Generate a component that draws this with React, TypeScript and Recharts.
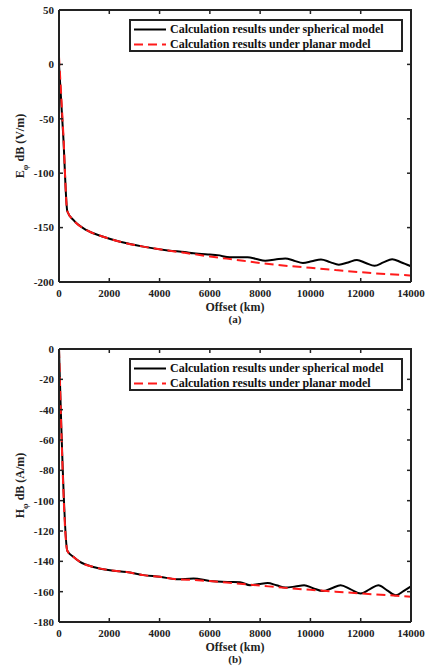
import React from 'react';
import { LineChart, Line, XAxis, YAxis, Legend, ReferenceLine } from 'recharts';

// x ticks shared by both panels
const offsetTicks = [0, 2000, 4000, 6000, 8000, 10000, 12000, 14000];
const eTicks = [-200, -150, -100, -50, 0, 50];
const hTicks = [-180, -160, -140, -120, -100, -80, -60, -40, -20, 0];

const seriesNames = ['Calculation results under spherical model', 'Calculation results under planar model'];
const seriesColors = ['#000', '#ff1a1a'];

// (a) E_phi
const offsetSphA = [0, 170, 330, 570, 1100, 1760, 2430, 3350, 4400, 5000, 5350, 6000, 6300, 6800, 7500, 7850, 8200, 8600, 9000, 9350, 9700, 10050, 10420, 10780, 11130, 11500, 11850, 12200, 12550, 12900, 13250, 13600, 14000];
const sphA = [0, -66, -135, -143, -152.4, -158.4, -163, -167.5, -171.2, -172.5, -173.6, -174.8, -175.3, -177.3, -177.2, -178.8, -180.5, -179.4, -178.3, -180.4, -182.6, -181, -179.3, -181.7, -184.1, -182, -179.8, -182.5, -185.1, -182, -179, -181.8, -185.5];
const offsetPlaA = [0, 170, 330, 570, 1100, 1760, 2430, 3350, 4400, 5000, 6000, 7000, 8000, 9000, 10000, 11000, 12000, 13000, 14000];
const plaA = [7, -63, -135, -143, -152.4, -158.4, -163, -167.5, -171.2, -173.2, -176.5, -179.5, -182.5, -185, -187, -189, -191, -192.7, -194];

// (b) H_phi
const offsetSphB = [0, 330, 570, 835, 1365, 2030, 2690, 3350, 4020, 4680, 5350, 6000, 6700, 7200, 7600, 7950, 8300, 8650, 9000, 9400, 9750, 10100, 10500, 10850, 11200, 11600, 12000, 12350, 12700, 13050, 13400, 13700, 14000];
const sphB = [0, -133, -137, -140.4, -143.7, -145.9, -147, -149.1, -150.2, -151.8, -151.4, -152.9, -153.6, -153.8, -155.8, -155, -154.3, -155.8, -157.3, -156.6, -155.8, -157.7, -159.6, -157.7, -155.8, -158.5, -161.2, -158.5, -155.8, -159.1, -162.4, -159.6, -156.5];
const offsetPlaB = [0, 330, 570, 835, 1365, 2030, 2690, 3350, 4020, 4680, 5350, 6000, 7000, 8000, 9000, 10000, 11000, 12000, 13000, 14000];
const plaB = [0, -133, -137, -140.4, -143.7, -145.9, -147, -149.1, -150.2, -151.8, -152.3, -153, -154.5, -156, -157.5, -158.8, -160, -161.2, -162.2, -163.3];

const FONT = '"Liberation Serif", "Times New Roman", serif';
const AXIS = '#222';
const TICK = 4;
const CHART_W = 426;
const CHART_H = 333;
const LEFT = 59;
const RIGHT = 15;
const PLOT_W = CHART_W - LEFT - RIGHT;

const toPts = (xs: number[], ys: number[]) => xs.map((x, i) => ({ x, y: ys[i] }));

// MATLAB-style inward ticks, mirrored on the opposite side of the box
const BottomTick = (p: any) => (
  <g>
    <line x1={p.x} y1={p.y} x2={p.x} y2={p.y - TICK} stroke={AXIS} strokeWidth={1.5} />
    <line x1={p.x} y1={p.y - p.plotH} x2={p.x} y2={p.y - p.plotH + TICK} stroke={AXIS} strokeWidth={1.5} />
    <text x={p.x} y={p.y + 15} textAnchor="middle" fontFamily={FONT} fontWeight="bold" fontSize={11} fill="#222">
      {p.payload.value}
    </text>
  </g>
);
const LeftTick = (p: any) => (
  <g>
    <line x1={p.x} y1={p.y} x2={p.x + TICK} y2={p.y} stroke={AXIS} strokeWidth={1.5} />
    <line x1={p.x + PLOT_W} y1={p.y} x2={p.x + PLOT_W - TICK} y2={p.y} stroke={AXIS} strokeWidth={1.5} />
    <text x={p.x - 5} y={p.y} dy="0.35em" textAnchor="end" fontFamily={FONT} fontWeight="bold" fontSize={11} fill="#222">
      {p.payload.value}
    </text>
  </g>
);

// legend drawn in the series order (Recharts sorts payload by name otherwise)
const LegendBox = () => (
  <div style={{ width: 274, height: 33, boxSizing: 'border-box', border: `2px solid ${AXIS}`, background: '#fff', paddingTop: 1 }}>
    {seriesNames.map((name, i) => (
      <div key={name} style={{ display: 'flex', alignItems: 'center', height: 15 }}>
        <svg width={39} height={15} style={{ flex: 'none' }}>
          <line x1={3} y1={7.5} x2={35} y2={7.5} stroke={seriesColors[i]} strokeWidth={2} strokeDasharray={i === 1 ? '9 5' : undefined} />
        </svg>
        <span style={{ fontFamily: FONT, fontWeight: 'bold', fontSize: 12, color: '#111', whiteSpace: 'nowrap' }}>{name}</span>
      </div>
    ))}
  </div>
);

interface PanelProps {
  sph: { x: number; y: number }[];
  pla: { x: number; y: number }[];
  yTicks: number[];
  domain: [number, number];
  quantity: string;
  unit: string;
  caption: string;
  top: number;
  xHeight: number;
}

function Panel({ sph, pla, yTicks, domain, quantity, unit, caption, top, xHeight }: PanelProps) {
  const plotH = CHART_H - top - xHeight;
  const yLabel = (props: any) => {
    const vb = props.viewBox;
    const cx = 20;
    const cy = vb.y + vb.height / 2;
    return (
      <text transform={`rotate(-90 ${cx} ${cy})`} x={cx} y={cy} dy="0.35em" textAnchor="middle" fontFamily={FONT} fontWeight="bold" fontSize={12} fill="#222">
        {quantity}
        <tspan dy="4" fontSize={9}>φ</tspan>
        <tspan dy="-4">{` dB (${unit})`}</tspan>
      </text>
    );
  };
  const xLabel = (props: any) => {
    const vb = props.viewBox;
    const cx = LEFT + PLOT_W / 2;
    return (
      <g>
        <text x={cx} y={vb.y + 29} textAnchor="middle" fontFamily={FONT} fontWeight="bold" fontSize={12} fill="#222">Offset (km)</text>
        <text x={cx} y={vb.y + 41} textAnchor="middle" fontFamily={FONT} fontWeight="bold" fontSize={11} fill="#222">{caption}</text>
      </g>
    );
  };
  return (
    <div style={{ position: 'relative', width: CHART_W, height: CHART_H }}>
      <LineChart width={CHART_W} height={CHART_H} margin={{ top, right: RIGHT, bottom: 0, left: 0 }}>
        <XAxis type="number" dataKey="x" domain={[0, 14000]} ticks={offsetTicks} interval={0} height={xHeight}
          tickSize={0} tickMargin={0} tick={<BottomTick plotH={plotH} />} axisLine={{ stroke: AXIS, strokeWidth: 2 }} label={{ content: xLabel }} />
        <YAxis type="number" domain={domain} ticks={yTicks} interval={0} width={LEFT}
          tickSize={0} tickMargin={0} tick={<LeftTick />} axisLine={{ stroke: AXIS, strokeWidth: 2 }} label={{ content: yLabel }} />
        <ReferenceLine y={domain[1]} stroke={AXIS} strokeWidth={2} ifOverflow="visible" />
        <ReferenceLine x={14000} stroke={AXIS} strokeWidth={2} ifOverflow="visible" />
        <Legend layout="horizontal" verticalAlign="middle" align="center" content={<LegendBox />}
          wrapperStyle={{ left: 129, top: top + 9, width: 274, height: 33 }} />
        <Line data={sph} dataKey="y" name={seriesNames[0]} type="monotone" stroke={seriesColors[0]} strokeWidth={2} dot={false} isAnimationActive={false} />
        <Line data={pla} dataKey="y" name={seriesNames[1]} type="monotone" stroke={seriesColors[1]} strokeWidth={2} strokeDasharray="9 5" dot={false} isAnimationActive={false} />
      </LineChart>
      {/* top and right edges of the axes box */}
      <div style={{ position: 'absolute', left: LEFT, top: top - 1, width: PLOT_W + 1, height: plotH + 1, boxSizing: 'border-box',
        borderTop: `2px solid ${AXIS}`, borderRight: `2px solid ${AXIS}`, pointerEvents: 'none' }} />
    </div>
  );
}

export default function App() {
  return (
    <div style={{ position: 'absolute', left: 0, top: 0, width: CHART_W, height: 666, background: '#fff', fontFamily: FONT }}>
      <Panel sph={toPts(offsetSphA, sphA)} pla={toPts(offsetPlaA, plaA)} yTicks={eTicks} domain={[-200, 50]}
        quantity="E" unit="V/m" caption="(a)" top={10} xHeight={51} />
      <Panel sph={toPts(offsetSphB, sphB)} pla={toPts(offsetPlaB, plaB)} yTicks={hTicks} domain={[-180, 0]}
        quantity="H" unit="A/m" caption="(b)" top={16} xHeight={44} />
    </div>
  );
}
